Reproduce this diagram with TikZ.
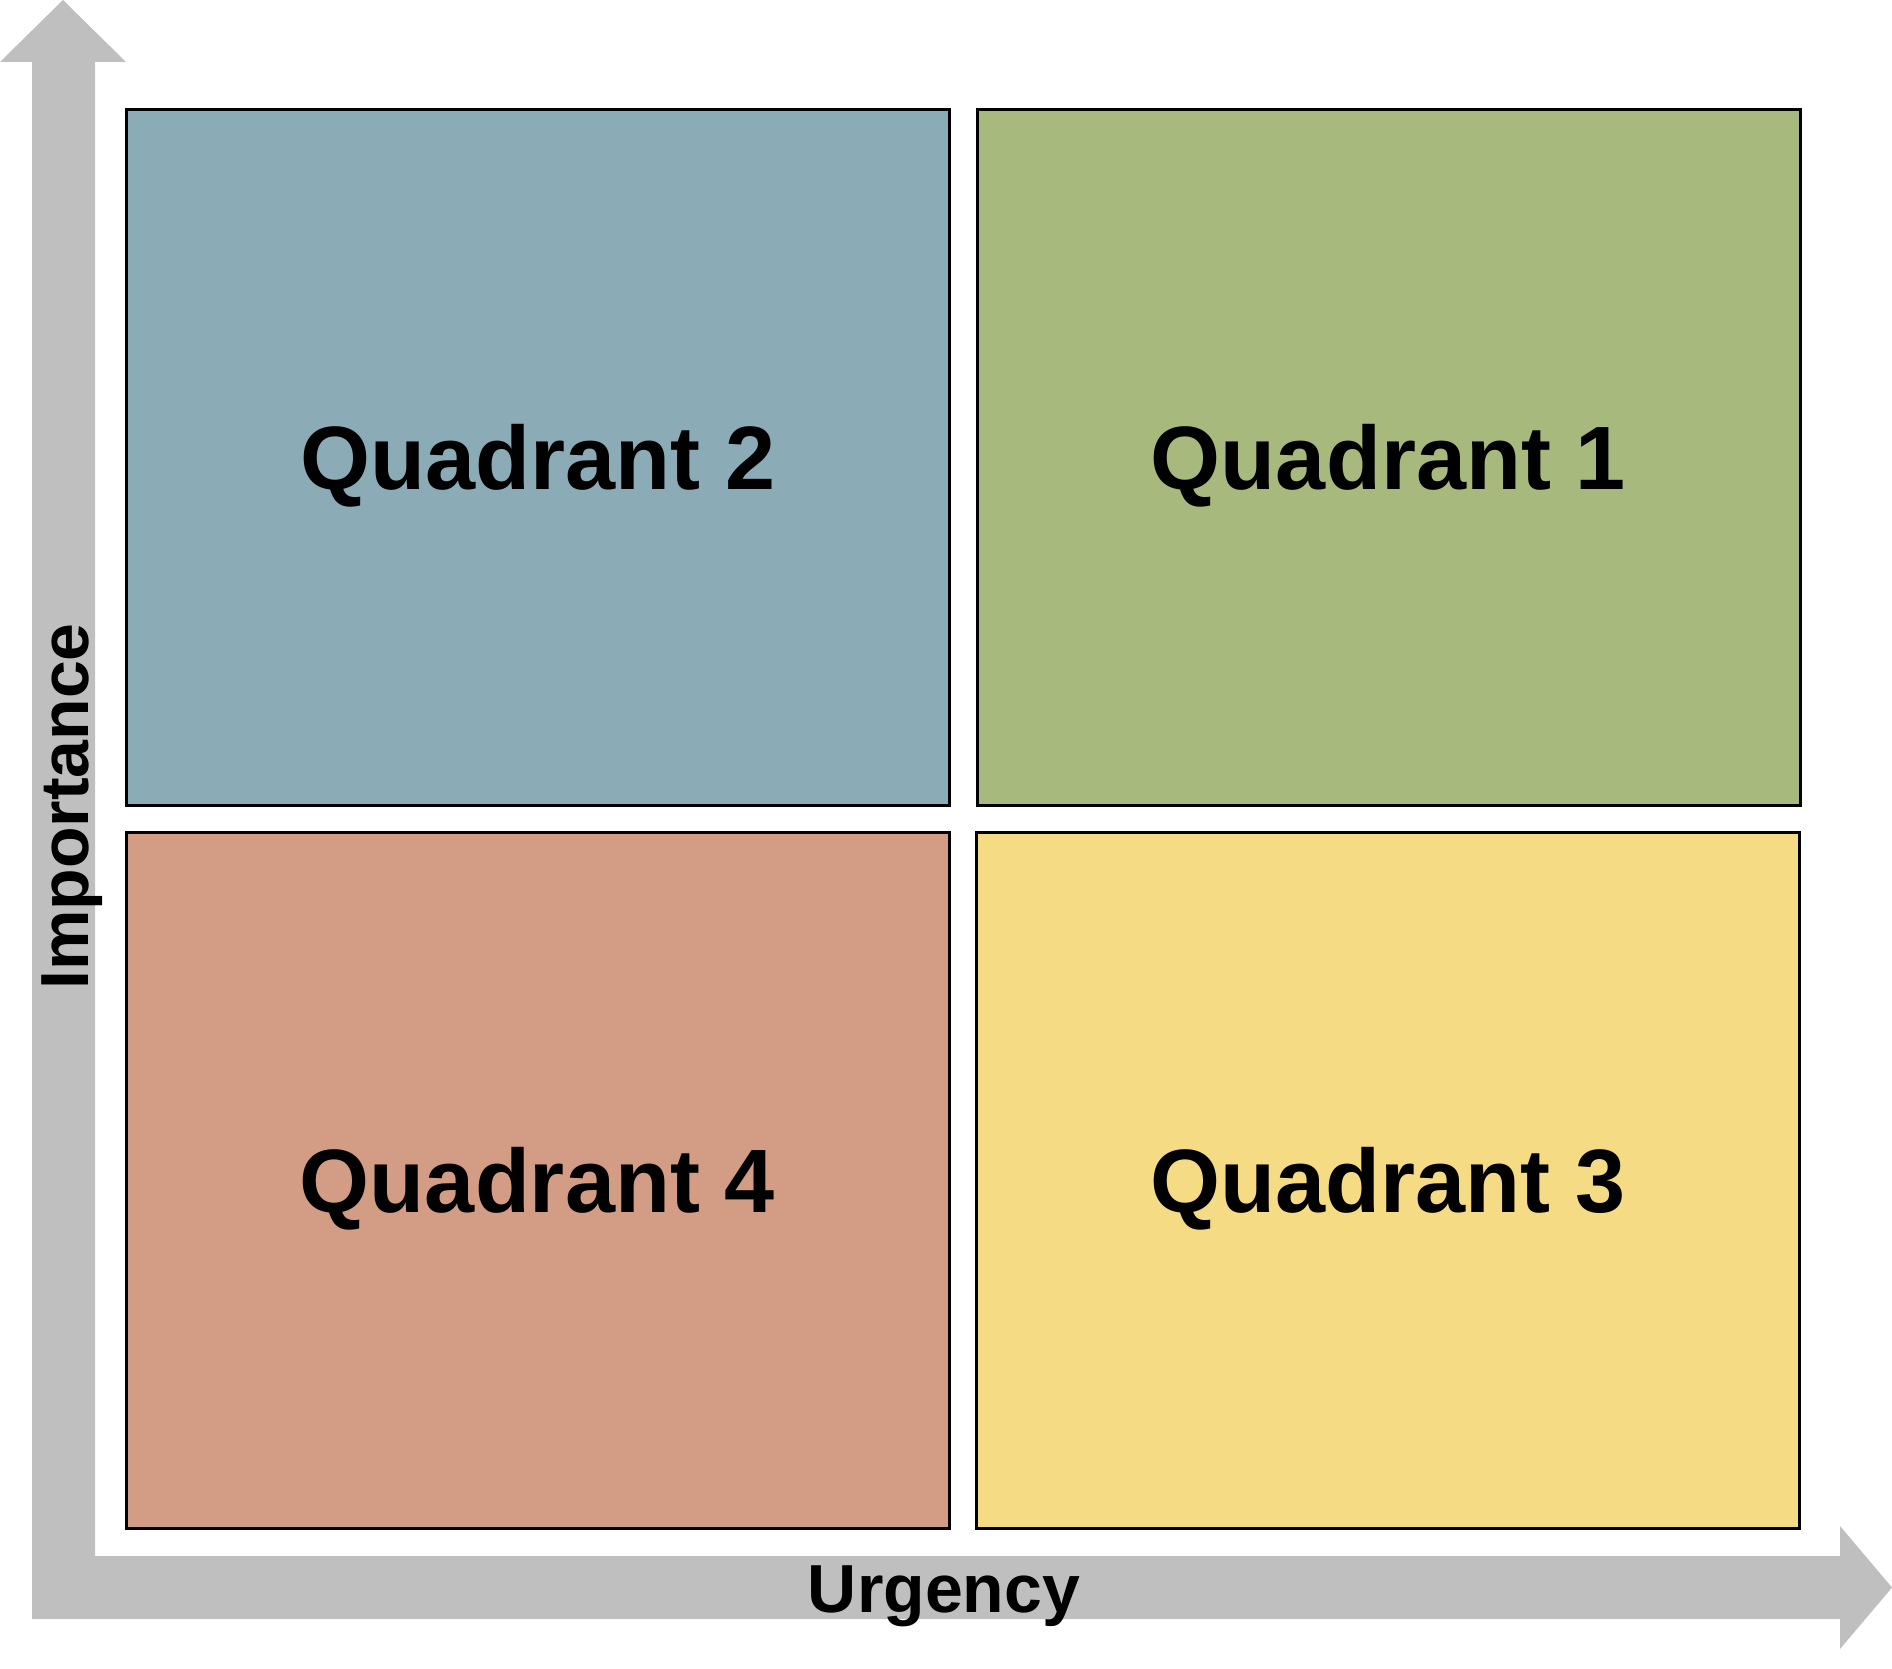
\documentclass[tikz,border=0pt]{standalone}
\usepackage{fontspec}
\setmainfont{Liberation Sans}
\definecolor{axisgray}{RGB}{191,191,191}
\definecolor{qblue}{RGB}{139,172,182}
\definecolor{qgreen}{RGB}{168,185,126}
\definecolor{qred}{RGB}{211,156,133}
\definecolor{qyellow}{RGB}{246,219,133}

\begin{document}
\begin{tikzpicture}[x=1pt, y=-1pt,
  quad/.style={draw=black, line width=3pt, minimum width=823pt, minimum height=696pt,
    inner sep=0pt, font=\fontsize{90}{90}\selectfont\bfseries, text height=64pt, text depth=0pt},
  axislabel/.style={font=\fontsize{68}{68}\selectfont\bfseries, inner sep=0pt, anchor=base}]
  \useasboundingbox (0,0) rectangle (1892,1669);
  % eixos
  \fill[axisgray] (63,0) -- (126,62) -- (95,62) -- (95,1556) -- (1840,1556) -- (1840,1526)
    -- (1892,1587.5) -- (1840,1649) -- (1840,1619) -- (32,1619) -- (32,62) -- (0,62) -- cycle;
  % quadrantes
  \node[quad, fill=qblue] (q2) at (538,457.5) {Quadrant 2};
  \node[quad, fill=qgreen] (q1) at (1388.5,457.5) {Quadrant 1};
  \node[quad, fill=qred] (q4) at (537.5,1180) {Quadrant 4};
  \node[quad, fill=qyellow] (q3) at (1388,1180) {Quadrant 3};
  % rotulos
  \node[axislabel] (urgency) at (944,1612) {Urgency};
  \node[axislabel, rotate=90] (importance) at (88,806.5) {Importance};
\end{tikzpicture}
\end{document}
